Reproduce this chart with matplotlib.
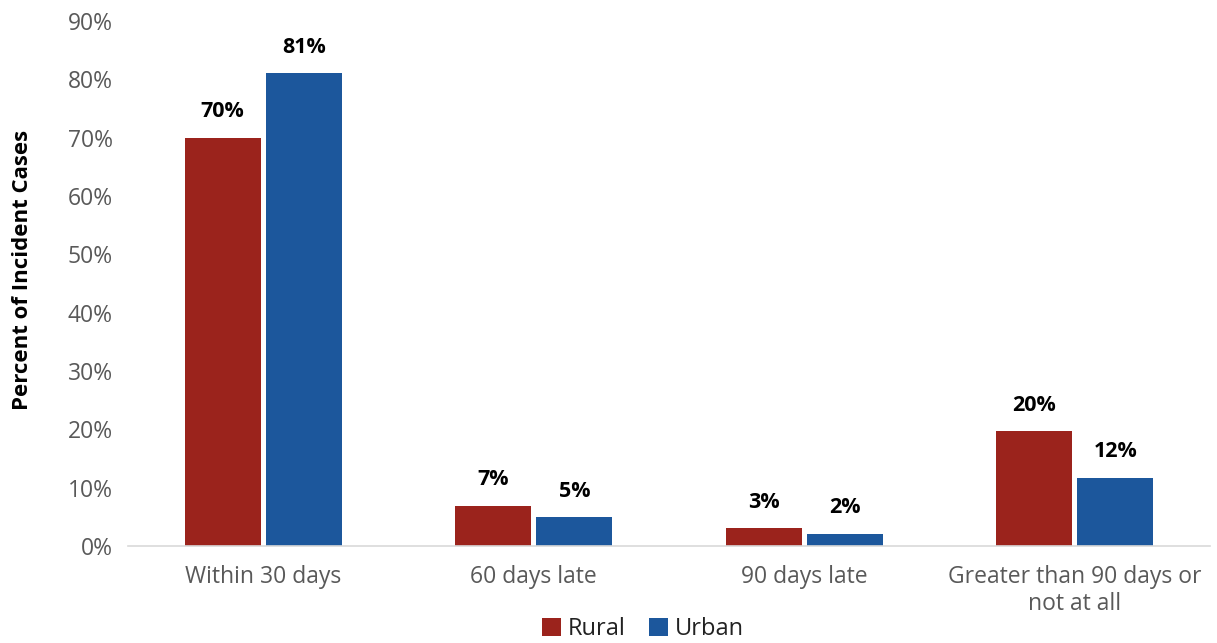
import matplotlib
matplotlib.use("Agg")
import matplotlib.pyplot as plt
import numpy as np
from matplotlib.ticker import FuncFormatter

categories = ["Within 30 days", "60 days late", "90 days late", "Greater than 90 days or\nnot at all"]
rural = [70.0, 6.9, 3.1, 19.7]
urban = [81.0, 5.0, 2.1, 11.7]
rural_labels = ["70%", "7%", "3%", "20%"]
urban_labels = ["81%", "5%", "2%", "12%"]
yticks = [0, 10, 20, 30, 40, 50, 60, 70, 80, 90]

plt.rcParams['font.family'] = ['Open Sans', 'DejaVu Sans']

fig = plt.figure(figsize=(12.17, 6.43), dpi=100)
ax = fig.add_axes([128/1217, 1-546/643, (1210-128)/1217, (546-21)/643])

x = np.arange(len(categories))
w = 0.28
gap = 0.01
c_r = "#9B231C"
c_u = "#1C579C"
br = ax.bar(x - w/2 - gap, rural, w, color=c_r, label="Rural")
bu = ax.bar(x + w/2 + gap, urban, w, color=c_u, label="Urban")

for bars, labels in ((br, rural_labels), (bu, urban_labels)):
    for b, t in zip(bars, labels):
        ax.annotate(t, (b.get_x() + b.get_width()/2, b.get_height()), xytext=(0, 11),
                    textcoords="offset points", ha="center", va="bottom",
                    fontsize=15.5, fontweight="bold", color="black")

ax.set_xlim(-0.5, 3.5)
ax.set_ylim(0, 90)
ax.set_yticks(yticks)
ax.yaxis.set_major_formatter(FuncFormatter(lambda v, p: f"{v:.0f}%"))
ax.set_xticks(x)
ax.set_xticklabels(categories, linespacing=1.15)
ax.tick_params(axis="both", length=0, labelsize=16.5, colors="#595959")
ax.tick_params(axis="x", pad=14)
ax.tick_params(axis="y", pad=11)
for s in ("top", "right", "left"):
    ax.spines[s].set_visible(False)
ax.spines["bottom"].set_color("#D9D9D9")
ax.spines["bottom"].set_linewidth(1.2)
ax.set_ylabel("Percent of Incident Cases", fontsize=16, fontweight="bold", color="black")
ax.yaxis.set_label_coords(-0.088, 0.525)

fig.legend(handles=[br, bu], labels=["Rural", "Urban"], loc="center", bbox_to_anchor=(643/1217, 1-629/643),
           ncol=2, frameon=False, fontsize=17, handlelength=0.8, handleheight=0.8,
           handletextpad=0.3, columnspacing=1.0, labelcolor="#222222")

fig.savefig("out.png", dpi=100)
